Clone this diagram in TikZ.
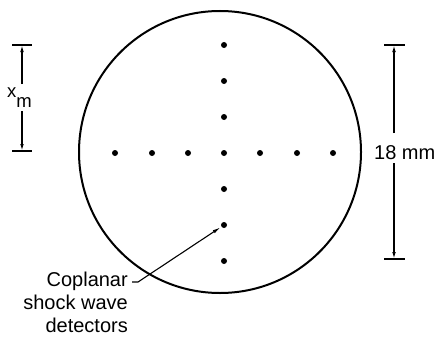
\documentclass[tikz,border=0pt]{standalone}
\usepackage{fontspec}
\setmainfont{Liberation Sans}
\usetikzlibrary{arrows.meta}
\tikzset{
  dot/.style={circle,fill=black,inner sep=0pt,minimum size=6pt},
  disk/.style={circle,draw=black,line width=2pt,inner sep=0pt,minimum size=282pt},
  dimline/.style={line width=1.3pt,-{Latex[length=7pt,width=3.6pt]}},
  bar/.style={line width=1.3pt},
  leader/.style={line width=1.1pt,-{Latex[length=8pt,width=3.6pt]}},
  lbl/.style={inner sep=0pt,font=\fontsize{20}{23}\selectfont}
}
\begin{document}
\begin{tikzpicture}[x=1pt,y=-1pt]
\useasboundingbox (0,0) rectangle (438,337);
% main circle
\node[disk] (disk) at (220,152) {};
% dots
\node[dot] (h1) at (115,153) {};
\node[dot] (h2) at (152,153) {};
\node[dot] (h3) at (188,153) {};
\node[dot] (c)  at (224,153) {};
\node[dot] (h5) at (260,153) {};
\node[dot] (h6) at (297,153) {};
\node[dot] (h7) at (333,153) {};
\node[dot] (v1) at (224,45) {};
\node[dot] (v2) at (224,81) {};
\node[dot] (v3) at (224,117) {};
\node[dot] (v5) at (224,189) {};
\node[dot] (v6) at (224,225) {};
\node[dot] (v7) at (224,261) {};
% left dimension x_m
\coordinate (lt) at (22,45);
\coordinate (lb) at (22,151);
\coordinate (lt1) at (22,84);
\coordinate (lb1) at (22,111);
\draw[bar] (12,45) -- (32,45);
\draw[bar] (12,151) -- (32,151);
\draw[dimline] (lt1) -- (lt);
\draw[dimline] (lb1) -- (lb);
\node[lbl,anchor=base west,font=\fontsize{18.5}{20}\selectfont] (xm) at (7,97) {x\raisebox{-10pt}{m}};
% right dimension 18 mm
\coordinate (rt) at (394,45);
\coordinate (rb) at (394,259);
\coordinate (rt1) at (394,133);
\coordinate (rb1) at (394,163);
\draw[bar] (384,45) -- (405,45);
\draw[bar] (384,259) -- (405,259);
\draw[dimline] (rt1) -- (rt);
\draw[dimline] (rb1) -- (rb);
\node[lbl,anchor=west] (mm) at (374,153) {18 mm};
% label and leader
\node[lbl,align=right,anchor=north east] (txt) at (128,272) {Coplanar\\shock wave\\detectors};
\coordinate (ls) at (132,282);
\coordinate (lk) at (138,282);
\draw[leader,shorten >=1pt] (ls) -- (lk) -- (v6);
\end{tikzpicture}
\end{document}
